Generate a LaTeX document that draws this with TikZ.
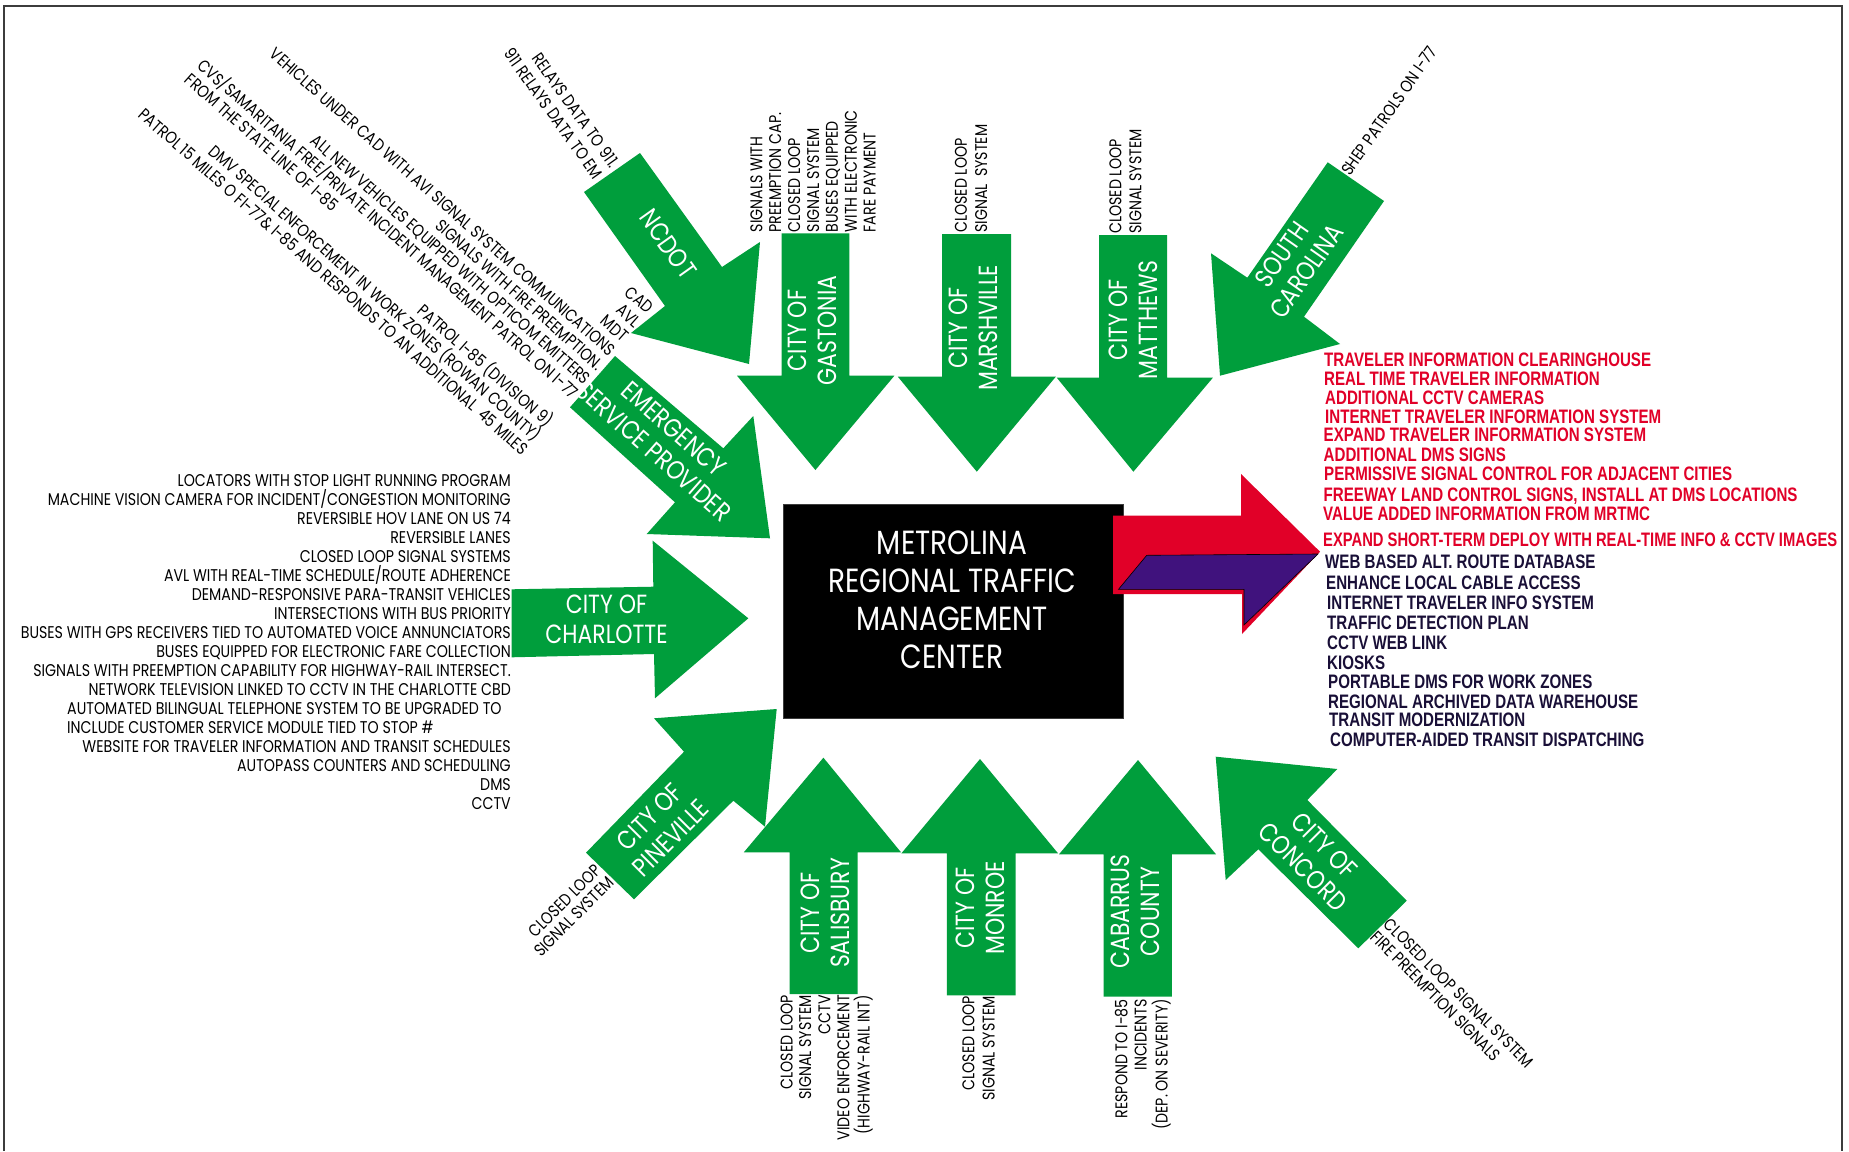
\documentclass[tikz,border=0pt]{standalone}
\usepackage{fontspec}
\setmainfont{Poppins}
\newfontfamily\gf[FakeStretch=0.835]{Poppins}
\newfontfamily\cf[FakeStretch=0.775]{Liberation Sans}
\definecolor{agreen}{RGB}{0,158,60}
\definecolor{ared}{RGB}{225,0,40}
\definecolor{apurple}{RGB}{64,18,125}
\definecolor{anavy}{RGB}{25,15,55}
\definecolor{bgray}{RGB}{60,60,60}
\tikzset{
  lbl/.style={font=\gf\fontsize{17}{19}\selectfont, inner sep=0pt, text=black},
  wl/.style={font=\gf\fontsize{26.3}{30}\selectfont, text=white, align=center, inner sep=0pt},
  rl/.style={font=\cf\bfseries\fontsize{19.5}{20}\selectfont, text=ared, inner sep=0pt, anchor=base west},
  nl/.style={font=\cf\bfseries\fontsize{19.5}{20}\selectfont, text=anavy, inner sep=0pt, anchor=base west},
  garrow/.style={fill=agreen},
}
\begin{document}
\begin{tikzpicture}[x=1pt,y=-1pt]
\useasboundingbox (0,0) rectangle (1849,1151);
\fill[white] (0,0) rectangle (1849,1151);
\draw[bgray, line width=1.5pt] (4,1151) -- (4,6) -- (1842,6) -- (1842,1151);

% ---------- green arrows ----------
% top row (pointing down)
\fill[garrow] (781.5,233.3) -- (849.3,233.3) -- (849.3,375.7) -- (894.4,375.7) -- (815.4,470) -- (737,375.7) -- (781.5,375.7) -- cycle;
\fill[garrow] (942,234) -- (1011,234) -- (1011,376.7) -- (1055.8,376.7) -- (976.8,471.7) -- (897.8,376.7) -- (942,376.7) -- cycle;
\fill[garrow] (1099,235) -- (1167,235) -- (1167,377.7) -- (1212.9,377.7) -- (1133.4,471.7) -- (1056.8,377.7) -- (1099,377.7) -- cycle;
% bottom row (pointing up)
\fill[garrow] (789.7,994) -- (857.6,994) -- (857.6,852.3) -- (901,852.3) -- (823.4,757.7) -- (743.8,852.3) -- (789.7,852.3) -- cycle;
\fill[garrow] (946.8,995.3) -- (1015.7,995.3) -- (1015.7,853.3) -- (1058,853.3) -- (980,759) -- (901.4,853.3) -- (946.8,853.3) -- cycle;
\fill[garrow] (1103.5,996.7) -- (1171.8,996.7) -- (1171.8,854.3) -- (1216,854.3) -- (1138,760) -- (1059,854.3) -- (1103.5,854.3) -- cycle;
% NCDOT
\fill[garrow] (640,153) -- (722,267) -- (760,242) -- (749,364) -- (631,333) -- (665,306) -- (584,192) -- cycle;
% South Carolina
\fill[garrow] (1327.7,162.3) -- (1384,201) -- (1304,316.7) -- (1340,344) -- (1220,375.7) -- (1211,253.3) -- (1247.3,277.7) -- cycle;
% Emergency service provider
\fill[garrow] (615,356) -- (570,407.3) -- (675,502.3) -- (646.7,534) -- (770,538.3) -- (753.3,416) -- (723.3,448.3) -- cycle;
% Charlotte
\fill[garrow] (511.7,589.3) -- (653.3,586.7) -- (652.7,540.7) -- (748.3,618.3) -- (655,698.3) -- (654,654) -- (511.7,657.3) -- cycle;
% Pineville
\fill[garrow] (586,852.7) -- (634,899.3) -- (733.3,800.7) -- (765,826.7) -- (776.7,709) -- (654,718.3) -- (684,751.7) -- cycle;
% Concord
\fill[garrow] (1215.7,756.7) -- (1337.3,769) -- (1307.3,800) -- (1406.7,900.7) -- (1358.3,948.3) -- (1258.3,849.3) -- (1225.7,880) -- cycle;

% ---------- centre box and output arrow ----------
\node[draw=bgray, line width=0.8pt, fill=black, minimum width=340pt, minimum height=214pt, inner sep=0pt] (mrtmc) at (953,611) {};
\node[font=\gf\fontsize{33.5}{38}\selectfont, text=white, align=center, inner sep=0pt] (mrtmctext) at (952,600)
  {METROLINA\\REGIONAL TRAFFIC\\MANAGEMENT\\CENTER};
\fill[ared] (1113,515.7) -- (1241,515.7) -- (1241,474) -- (1320,551.7) -- (1242,634) -- (1242,594) -- (1113,594) -- cycle;
\draw[fill=apurple, draw=black, line width=0.6pt] (1146.7,555.3) -- (1318,554) -- (1244,625) -- (1244,589.3) -- (1118.5,589.3) -- cycle;

% ---------- arrow labels ----------
\node[wl, rotate=-54.5] (ncdot) at (668,244) {NCDOT};
\node[wl, rotate=90] (gastonia) at (812.7,330.5) {CITY OF\\GASTONIA};
\node[wl, rotate=90] (marshville) at (973,328) {CITY OF\\MARSHVILLE};
\node[wl, rotate=90] (matthews) at (1133,320) {CITY OF\\MATTHEWS};
\node[wl, rotate=55] (sc) at (1294,263) {SOUTH\\CAROLINA};
\node[wl, rotate=-41.5] (esp) at (664,440) {EMERGENCY\\SERVICE PROVIDER};
\node[wl] (charlotte) at (606.5,619) {CITY OF\\CHARLOTTE};
\node[wl, rotate=45] (pineville) at (660,827.5) {CITY OF\\PINEVILLE};
\node[wl, rotate=90] (salisbury) at (825.6,913) {CITY OF\\SALISBURY};
\node[wl, rotate=90] (monroe) at (980,908) {CITY OF\\MONROE};
\node[wl, rotate=90] (cabarrus) at (1135.7,911.5) {CABARRUS\\COUNTY};
\node[wl, rotate=-45] (concord) at (1313.8,856) {CITY OF\\CONCORD};

% ---------- NCDOT notes ----------
\node[lbl, rotate=-54.5, anchor=base east] (nc1) at (610.6,169.4) {RELAYS DATA TO 911.};
\node[lbl, rotate=-54.5, anchor=base east] (nc2) at (594.2,181.0) {911 RELAYS DATA TO EM};

% ---------- emergency service provider notes ----------
\node[lbl, rotate=-41.5, anchor=base east] (es0) at (646.94,314.62) {CAD};
\node[lbl, rotate=-41.5, anchor=base east] (es1) at (634.42,328.78) {AVL};
\node[lbl, rotate=-41.5, anchor=base east] (es2) at (621.90,342.94) {MDT};
\node[lbl, rotate=-41.5, anchor=base east] (es3) at (609.37,357.09) {VEHICLES UNDER CAD WITH AVI SIGNAL SYSTEM COMMUNICATIONS};
\node[lbl, rotate=-41.5, anchor=base east] (es4) at (596.85,371.25) {SIGNALS WITH FIRE PREEMPTION.};
\node[lbl, rotate=-41.5, anchor=base east] (es5) at (584.33,385.40) {ALL NEW VEHICLES EQUIPPED WITH OPTICOM EMITTERS};
\node[lbl, rotate=-41.5, anchor=base east] (es6) at (571.80,399.56) {CVS/SAMARITANIA FREE/PRIVATE INCIDENT MANAGEMENT PATROL ON I-77};
\node[lbl, rotate=-41.5, anchor=base west] (es7) at ([shift={(-12.52,14.16)}]es6.base west) {FROM THE STATE LINE OF I-85};
\node[lbl, rotate=-41.5, anchor=base east] (es8) at (546.76,427.87) {PATROL I-85 (DIVISION 9)};
\node[lbl, rotate=-41.5, anchor=base east] (es9) at (534.23,442.03) {DMV SPECIAL ENFORCEMENT IN WORK ZONES (ROWAN COUNTY)};
\node[lbl, rotate=-41.5, anchor=base east] (es10) at (521.71,456.18) {PATROL 15 MILES O FI-77\& I-85 AND RESPONDS TO AN ADDITIONAL\ \ 45 MILES};

% ---------- top vertical notes ----------
\node[lbl, rotate=90, anchor=base west] (ga1) at (762.3,232.5) {SIGNALS WITH};
\node[lbl, rotate=90, anchor=base west] (ga2) at (781.2,232.5) {PREEMPTION CAP.};
\node[lbl, rotate=90, anchor=base west] (ga3) at (800.1,232.5) {CLOSED LOOP};
\node[lbl, rotate=90, anchor=base west] (ga4) at (819.0,232.5) {SIGNAL SYSTEM};
\node[lbl, rotate=90, anchor=base west] (ga5) at (837.9,232.5) {BUSES EQUIPPED};
\node[lbl, rotate=90, anchor=base west] (ga6) at (856.8,232.5) {WITH ELECTRONIC};
\node[lbl, rotate=90, anchor=base west] (ga7) at (875.7,232.5) {FARE PAYMENT};
\node[lbl, rotate=90, anchor=base west] (ma1) at (966.8,233) {CLOSED LOOP};
\node[lbl, rotate=90, anchor=base west] (ma2) at (987.2,233) {SIGNAL\ \ SYSTEM};
\node[lbl, rotate=90, anchor=base west] (mt1) at (1121.4,234) {CLOSED LOOP};
\node[lbl, rotate=90, anchor=base west] (mt2) at (1141.3,234) {SIGNAL SYSTEM};
\node[lbl, rotate=55, anchor=base west] (sc1) at (1350,177) {SHEP PATROLS ON I-77};

% ---------- bottom vertical notes ----------
\node[lbl, rotate=90, anchor=base east] (sa1) at (792.6,995) {CLOSED LOOP};
\node[lbl, rotate=90, anchor=base east] (sa2) at (811.0,995) {SIGNAL SYSTEM};
\node[lbl, rotate=90, anchor=base east] (sa3) at (830.4,995) {CCTV};
\node[lbl, rotate=90, anchor=base east] (sa4) at (849.3,995) {VIDEO ENFORCEMENT};
\node[lbl, rotate=90, anchor=base east] (sa5) at (869.7,995) {(HIGHWAY-RAIL INT)};
\node[lbl, rotate=90, anchor=base east] (mo1) at (974.3,996) {CLOSED LOOP};
\node[lbl, rotate=90, anchor=base east] (mo2) at (994.7,996) {SIGNAL SYSTEM};
\node[lbl, rotate=90, anchor=base east] (cb1) at (1127.3,999) {RESPOND TO I-85};
\node[lbl, rotate=90, anchor=base east] (cb2) at (1146.7,999) {INCIDENTS};
\node[lbl, rotate=90, anchor=base east] (cb3) at (1167.6,999) {(DEP. ON SEVERITY)};
\node[lbl, rotate=45, anchor=base east] (pv1) at (602.7,871.4) {CLOSED LOOP};
\node[lbl, rotate=45, anchor=base east] (pv2) at (615.2,883.9) {SIGNAL SYSTEM};
\node[lbl, rotate=-45, anchor=base west] (co1) at (1382.8,925.3) {CLOSED LOOP SIGNAL SYSTEM};
\node[lbl, rotate=-45, anchor=base west] (co2) at (1369.7,938.3) {FIRE PREEMPTION SIGNALS};

% ---------- Charlotte list ----------
\node[lbl, anchor=base east] (ch1) at (511,486) {LOCATORS WITH STOP LIGHT RUNNING PROGRAM};
\node[lbl, anchor=base east] (ch2) at (511,505) {MACHINE VISION CAMERA FOR INCIDENT/CONGESTION MONITORING};
\node[lbl, anchor=base east] (ch3) at (511,524) {REVERSIBLE HOV LANE ON US 74};
\node[lbl, anchor=base east] (ch4) at (511,543) {REVERSIBLE LANES};
\node[lbl, anchor=base east] (ch5) at (511,562) {CLOSED LOOP SIGNAL SYSTEMS};
\node[lbl, anchor=base east] (ch6) at (511,581) {AVL WITH REAL-TIME SCHEDULE/ROUTE ADHERENCE};
\node[lbl, anchor=base east] (ch7) at (511,600) {DEMAND-RESPONSIVE PARA-TRANSIT VEHICLES};
\node[lbl, anchor=base east] (ch8) at (511,619) {INTERSECTIONS WITH BUS PRIORITY};
\node[lbl, anchor=base east] (ch9) at (511,638) {BUSES WITH GPS RECEIVERS TIED TO AUTOMATED VOICE ANNUNCIATORS};
\node[lbl, anchor=base east] (ch10) at (511,657) {BUSES EQUIPPED FOR ELECTRONIC FARE COLLECTION};
\node[lbl, anchor=base east] (ch11) at (511,676) {SIGNALS WITH PREEMPTION CAPABILITY FOR HIGHWAY-RAIL INTERSECT.};
\node[lbl, anchor=base east] (ch12) at (511,695) {NETWORK TELEVISION LINKED TO CCTV IN THE CHARLOTTE CBD};
\node[lbl, anchor=base west] (ch13) at (67,714) {AUTOMATED BILINGUAL TELEPHONE SYSTEM TO BE UPGRADED TO};
\node[lbl, anchor=base west] (ch14) at (67,733) {INCLUDE CUSTOMER SERVICE MODULE TIED TO STOP \#};
\node[lbl, anchor=base east] (ch15) at (511,752) {WEBSITE FOR TRAVELER INFORMATION AND TRANSIT SCHEDULES};
\node[lbl, anchor=base east] (ch16) at (511,771) {AUTOPASS COUNTERS AND SCHEDULING};
\node[lbl, anchor=base east] (ch17) at (511,790) {DMS};
\node[lbl, anchor=base east] (ch18) at (511,809) {CCTV};

% ---------- output list ----------
\node[rl] (o1) at (1324,366.3) {TRAVELER INFORMATION CLEARINGHOUSE};
\node[rl] (o2) at (1324,385.3) {REAL TIME TRAVELER INFORMATION};
\node[rl] (o3) at (1325,404.7) {ADDITIONAL CCTV CAMERAS};
\node[rl] (o4) at (1325,423) {INTERNET TRAVELER INFORMATION SYSTEM};
\node[rl] (o5) at (1323.5,441.3) {EXPAND TRAVELER INFORMATION SYSTEM};
\node[rl] (o6) at (1323.5,461.3) {ADDITIONAL DMS SIGNS};
\node[rl] (o7) at (1324,480.3) {PERMISSIVE SIGNAL CONTROL FOR ADJACENT CITIES};
\node[rl] (o8) at (1323.5,501.3) {FREEWAY LAND CONTROL SIGNS, INSTALL AT DMS LOCATIONS};
\node[rl] (o9) at (1323,520.3) {VALUE ADDED INFORMATION FROM MRTMC};
\node[rl] (o10) at (1323,546) {\resizebox{514pt}{\height}{EXPAND SHORT-TERM DEPLOY WITH REAL-TIME INFO \& CCTV IMAGES}};
\node[nl] (o11) at (1325,568.7) {WEB BASED ALT. ROUTE DATABASE};
\node[nl] (o12) at (1326,589.3) {ENHANCE LOCAL CABLE ACCESS};
\node[nl] (o13) at (1327,609.7) {INTERNET TRAVELER INFO SYSTEM};
\node[nl] (o14) at (1327,629.7) {TRAFFIC DETECTION PLAN};
\node[nl] (o15) at (1327,649.3) {CCTV WEB LINK};
\node[nl] (o16) at (1327,669.3) {KIOSKS};
\node[nl] (o17) at (1328,688.7) {PORTABLE DMS FOR WORK ZONES};
\node[nl] (o18) at (1328,708) {REGIONAL ARCHIVED DATA WAREHOUSE};
\node[nl] (o19) at (1329,726) {TRANSIT MODERNIZATION};
\node[nl] (o20) at (1330,746.3) {COMPUTER-AIDED TRANSIT DISPATCHING};
\end{tikzpicture}
\end{document}
